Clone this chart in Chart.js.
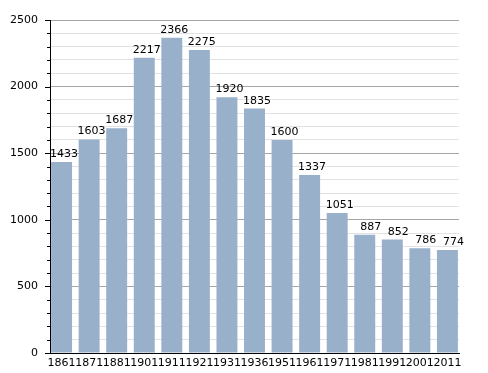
<!DOCTYPE html>
<html>
<head>
<meta charset="utf-8">
<script src="https://cdn.jsdelivr.net/npm/chart.js@4"></script>
<style>
  html, body { margin: 0; padding: 0; background: #fff; }
  #wrap { width: 488px; height: 373px; }
</style>
</head>
<body>
<div id="wrap"><canvas id="popChart"></canvas></div>
<script>
const years = ['1861', '1871', '1881', '1901', '1911', '1921', '1931', '1936', '1951', '1961', '1971', '1981', '1991', '2001', '2011'];
const population = [1433, 1603, 1687, 2217, 2366, 2275, 1920, 1835, 1600, 1337, 1051, 887, 852, 786, 774];
const yTicks = [0, 500, 1000, 1500, 2000, 2500];

const barColor = '#98b0ca';

// small tick marks on the left of the y axis, longer ones at labelled values
const yTickMarks = {
    id: 'yTickMarks',
    afterDraw(chart) {
        const ctx = chart.ctx;
        const y = chart.scales.y;
        const left = chart.chartArea.left;
        ctx.save();
        ctx.strokeStyle = '#000';
        ctx.lineWidth = 1;
        for (let v = 0; v <= 2500; v += 100) {
            const py = Math.round(y.getPixelForValue(v)) + 0.5;
            const len = yTicks.includes(v) ? 5 : 3;
            ctx.beginPath();
            ctx.moveTo(left - len, py);
            ctx.lineTo(left, py);
            ctx.stroke();
        }
        ctx.restore();
    }
};

// value written just above each bar
const barValues = {
    id: 'barValues',
    afterDatasetsDraw(chart) {
        const ctx = chart.ctx;
        const meta = chart.getDatasetMeta(0);
        ctx.save();
        ctx.font = '11px "DejaVu Sans"';
        ctx.fillStyle = '#000';
        ctx.textAlign = 'right';
        ctx.textBaseline = 'alphabetic';
        meta.data.forEach((bar, i) => {
            ctx.fillText(String(population[i]), bar.x + bar.width / 2 + 6, bar.y - 5);
        });
        ctx.restore();
    }
};

new Chart(document.getElementById('popChart'), {
    type: 'bar',
    data: {
        datasets: [{
            data: population.map((v, i) => ({ x: i, y: v })),
            backgroundColor: barColor,
            borderWidth: 0,
            barPercentage: 0.76,
            categoryPercentage: 1
        }]
    },
    options: {
        responsive: true,
        maintainAspectRatio: false,
        animation: false,
        layout: { padding: { top: 20, right: 29, left: 0, bottom: 0 } },
        plugins: {
            legend: { display: false },
            tooltip: { enabled: false }
        },
        scales: {
            x: {
                type: 'linear',
                offset: false,
                min: -0.42,
                max: 14.42,
                grid: { display: false, drawTicks: false, offset: false },
                border: { color: '#000', width: 1 },
                ticks: {
                    stepSize: 1,
                    includeBounds: false,
                    autoSkip: false,
                    maxTicksLimit: 40,
                    maxRotation: 0,
                    padding: 4,
                    color: '#000',
                    font: { family: 'DejaVu Sans', size: 11 },
                    callback: (v) => Number.isInteger(v) ? years[v] : ''
                },
                afterFit: (scale) => { scale.height = 20; }
            },
            y: {
                min: 0,
                max: 2500,
                grid: {
                    drawTicks: false,
                    color: (c) => yTicks.includes(c.tick.value) ? '#a6a6a6' : '#e2e2e2'
                },
                border: { color: '#000', width: 1 },
                ticks: {
                    stepSize: 100,
                    maxTicksLimit: 40,
                    autoSkip: false,
                    padding: 12,
                    color: '#000',
                    font: { family: 'DejaVu Sans', size: 11 },
                    callback: (v) => yTicks.includes(v) ? String(v) : ''
                },
                afterFit: (scale) => { scale.width = 50; }
            }
        }
    },
    plugins: [yTickMarks, barValues]
});
</script>
</body>
</html>
